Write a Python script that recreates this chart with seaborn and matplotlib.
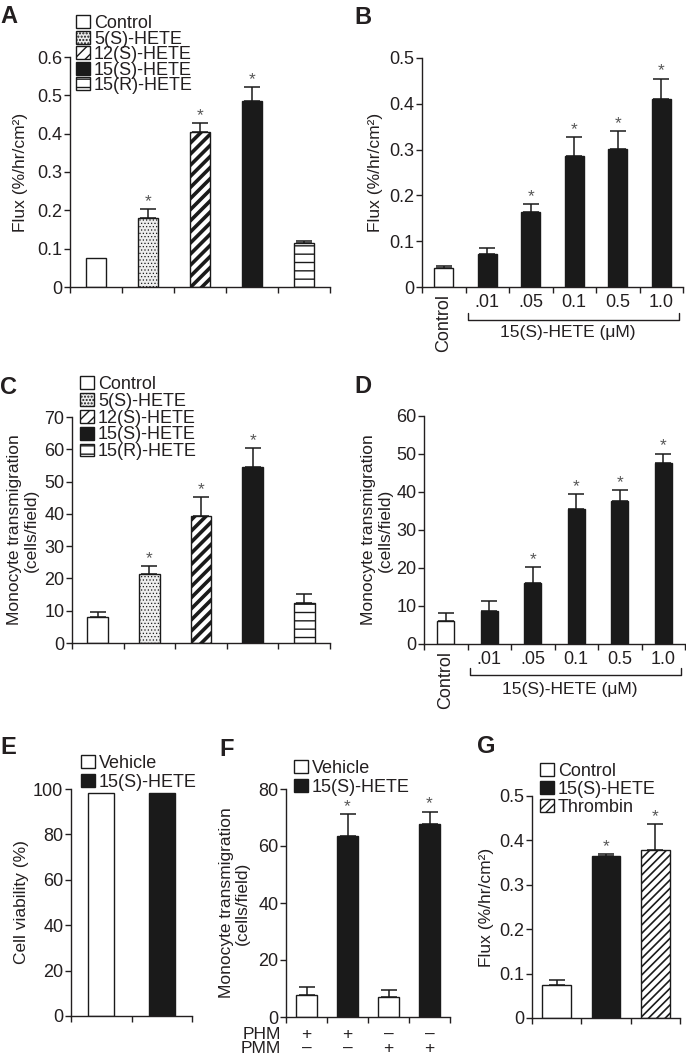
import numpy as np
import pandas as pd
import matplotlib
matplotlib.use("Agg")
import matplotlib.pyplot as plt
from matplotlib.patches import Patch
import seaborn as sns

# ---------------- data ----------------
# Panel A: flux by HETE type
a_groups = ["Control", "5(S)-HETE", "12(S)-HETE", "15(S)-HETE", "15(R)-HETE"]
a_flux = [0.075, 0.179, 0.404, 0.486, 0.114]
a_err = [0.0, 0.024, 0.023, 0.035, 0.006]
a_sig = [0, 1, 1, 1, 0]

# Panel B: flux by 15(S)-HETE dose
b_doses = ["Control", ".01", ".05", "0.1", "0.5", "1.0"]
b_flux = [0.042, 0.073, 0.164, 0.286, 0.301, 0.410]
b_err = [0.004, 0.012, 0.018, 0.042, 0.040, 0.045]
b_sig = [0, 0, 1, 1, 1, 1]

# Panel C: monocyte transmigration by HETE type
c_groups = ["Control", "5(S)-HETE", "12(S)-HETE", "15(S)-HETE", "15(R)-HETE"]
c_trans = [7.9, 21.5, 39.2, 54.4, 12.5]
c_err = [1.7, 2.2, 6.1, 5.9, 2.6]
c_sig = [0, 1, 1, 1, 0]

# Panel D: monocyte transmigration by dose
d_doses = ["Control", ".01", ".05", "0.1", "0.5", "1.0"]
d_trans = [6.0, 8.8, 16.1, 35.6, 37.7, 47.7]
d_err = [2.2, 2.4, 4.1, 3.8, 2.8, 2.4]
d_sig = [0, 0, 1, 1, 1, 1]

# Panel E: cell viability
e_groups = ["Vehicle", "15(S)-HETE"]
e_viab = [98.1, 98.1]

# Panel F: transmigration with PHM / PMM
f_conds = ["Vehicle PHM", "15(S)-HETE PHM", "Vehicle PMM", "15(S)-HETE PMM"]
f_treat = ["Vehicle", "15(S)-HETE", "Vehicle", "15(S)-HETE"]
f_trans = [7.7, 63.6, 7.1, 67.6]
f_err = [2.8, 7.5, 2.3, 4.5]
f_sig = [0, 1, 0, 1]
f_phm = ["+", "+", "\u2013", "\u2013"]
f_pmm = ["\u2013", "\u2013", "+", "+"]

# Panel G: flux control / 15(S)-HETE / thrombin
g_groups = ["Control", "15(S)-HETE", "Thrombin"]
g_flux = [0.0735, 0.365, 0.378]
g_err = [0.0125, 0.004, 0.058]
g_sig = [0, 1, 1]

# ---------------- style ----------------
sns.set_style("ticks")
plt.rcParams["font.family"] = ["Liberation Sans", "DejaVu Sans"]
TXT = "#231f20"
BLK = "#1a1a1a"
FS = 13
LFS = 13
plt.rcParams.update({
    "axes.linewidth": 1.0, "axes.edgecolor": TXT,
    "xtick.color": TXT, "ytick.color": TXT,
    "xtick.labelcolor": TXT, "ytick.labelcolor": TXT,
    "xtick.major.width": 1.0, "ytick.major.width": 1.0,
    "xtick.major.size": 4, "ytick.major.size": 4,
    "ytick.major.pad": 1.5,
    "xtick.labelsize": FS, "ytick.labelsize": FS,
    "axes.labelsize": 12.5, "axes.labelcolor": TXT, "text.color": TXT,
})

W, H = 686, 1062
fig = plt.figure(figsize=(W / 100, H / 100), dpi=100)


def add_ax(left, top, right, bottom):
    return fig.add_axes([left / W, 1 - bottom / H, (right - left) / W, (bottom - top) / H])


STYLE = {
    "Control": ("white", None, 1.0),
    "Vehicle": ("white", None, 1.0),
    "5(S)-HETE": ("#ededed", ".....", 0.5),
    "12(S)-HETE": ("white", "///", 2.6),
    "15(S)-HETE": (BLK, None, 1.0),
    "15(R)-HETE": ("white", "--", 1.0),
    "Thrombin": ("white", "////", 1.2),
}


def set_hlw(p, lw):
    try:
        p.set_hatch_linewidth(lw)
    except AttributeError:
        pass


def bars(ax, cats, vals, errs, sig, kinds, width, ymax, yticks, yfmt, ylabel, lab_x):
    df = pd.DataFrame({"cat": cats, "val": vals})
    pal = {c: STYLE[k][0] for c, k in zip(cats, kinds)}
    sns.barplot(data=df, x="cat", y="val", hue="cat", palette=pal, order=cats,
                hue_order=cats, legend=False, width=width, saturation=1,
                edgecolor=BLK, linewidth=1.0, errorbar=None, ax=ax)
    patches = sorted(ax.patches, key=lambda p: p.get_x())
    for p, k in zip(patches, kinds):
        fc, hatch, hlw = STYLE[k]
        if hatch:
            p.set_hatch(hatch)
            set_hlw(p, hlw)
    n = len(cats)
    if errs is not None:
        idx = [i for i in range(n) if errs[i] > 0]
        ax.errorbar([i for i in idx], [vals[i] for i in idx],
                    yerr=[[0] * len(idx), [errs[i] for i in idx]],
                    fmt="none", ecolor=BLK, elinewidth=1.1, capsize=5.5, capthick=1.1)
    if sig is not None:
        for i in range(n):
            if sig[i]:
                top = vals[i] + (errs[i] if errs is not None else 0)
                ax.annotate("*", (i, top), xytext=(0, 0), textcoords="offset points",
                            ha="center", va="bottom", fontsize=12.5, color="#555555",
                            annotation_clip=False)
    ax.set_xlim(-0.5, n - 0.5)
    ax.set_ylim(0, ymax)
    ax.set_xticks(np.arange(n + 1) - 0.5)
    ax.set_xticklabels([])
    ax.set_yticks(yticks)
    ax.set_yticklabels([yfmt(t) for t in yticks])
    ax.set_xlabel("")
    ax.set_ylabel(ylabel, linespacing=1.1)
    ax.yaxis.set_label_coords(lab_x, 0.5)
    sns.despine(ax=ax)
    ax.spines["left"].set_bounds(0, ymax)


def legend(ax, kinds, x, y, ls):
    handles = []
    for k in kinds:
        fc, hatch, hlw = STYLE[k]
        p = Patch(facecolor=fc, edgecolor=BLK, hatch=hatch, linewidth=1.0, label=k)
        set_hlw(p, hlw)
        handles.append(p)
    ax.legend(handles=handles, loc="upper left", bbox_to_anchor=(x / W, 1 - y / H),
              bbox_transform=fig.transFigure, frameon=False, borderpad=0,
              borderaxespad=0, handlelength=0.8, handleheight=0.72,
              handletextpad=0.2, labelspacing=ls, fontsize=LFS)


def fmt_dec(t):
    return "0" if t == 0 else f"{t:.1f}"


def fmt_int(t):
    return f"{int(t)}"


flux_lab = "Flux (%/hr/cm\u00b2)"
mono_lab = "Monocyte transmigration\n(cells/field)"

# ---- A ----
axA = add_ax(70, 57, 330, 287)
bars(axA, a_groups, a_flux, a_err, a_sig, a_groups, 0.4, 0.6,
     np.round(np.arange(0, 0.61, 0.1), 1), fmt_dec, flux_lab, -0.16)
legend(axA, a_groups, 76, 15, -0.08)

# ---- B ----
axB = add_ax(422, 58, 683, 287)
bars(axB, b_doses, b_flux, b_err, b_sig, ["Control"] + ["15(S)-HETE"] * 5, 0.44, 0.5,
     np.round(np.arange(0, 0.51, 0.1), 1), fmt_dec, flux_lab, -0.15)


def dose_labels(ax, labels, br_y, tick_y, txt_y):
    n = len(labels)
    ax.set_xticks(np.arange(n), labels, minor=True)
    ax.tick_params(axis="x", which="minor", length=0, pad=5)
    for t in ax.get_xticklabels(minor=True):
        if t.get_text() == "Control":
            t.set_rotation(90)
    tr = ax.get_xaxis_transform()
    ax.plot([0.55, 0.55, 5.4, 5.4], [tick_y, br_y, br_y, tick_y], color=TXT, lw=1.0,
            transform=tr, clip_on=False)
    ax.text(2.85, txt_y, "15(S)-HETE (\u03bcM)", transform=tr, ha="center", va="top",
            fontsize=12.5)


dose_labels(axB, b_doses, -0.144, -0.114, -0.165)

# ---- C ----
axC = add_ax(72, 417, 330, 643)
bars(axC, c_groups, c_trans, c_err, c_sig, c_groups, 0.4, 70,
     np.arange(0, 71, 10), fmt_int, mono_lab, -0.13)
legend(axC, c_groups, 80, 376, -0.01)

# ---- D ----
axD = add_ax(424, 416, 685, 644)
bars(axD, d_doses, d_trans, d_err, d_sig, ["Control"] + ["15(S)-HETE"] * 5, 0.4, 60,
     np.arange(0, 61, 10), fmt_int, mono_lab, -0.12)
dose_labels(axD, d_doses, -0.136, -0.105, -0.165)

# ---- E ----
axE = add_ax(71, 789, 192, 1016)
bars(axE, e_groups, e_viab, None, None, e_groups, 0.43, 100,
     np.arange(0, 101, 20), fmt_int, "Cell viability (%)", -0.35)
legend(axE, e_groups, 81, 755, 0.09)

# ---- F ----
axF = add_ax(286, 789, 450, 1017)
bars(axF, f_conds, f_trans, f_err, f_sig, f_treat, 0.5, 80,
     np.arange(0, 81, 20), fmt_int, mono_lab, -0.22)
legend(axF, ["Vehicle", "15(S)-HETE"], 294, 760, 0.09)
axF.set_xticks(np.arange(4), [f"{a}\n{b}" for a, b in zip(f_phm, f_pmm)], minor=True)
axF.tick_params(axis="x", which="minor", length=0, pad=7)
for t in axF.get_xticklabels(minor=True):
    t.set_linespacing(0.92)
    t.set_fontsize(12.5)
trF = axF.get_xaxis_transform()
axF.text(-0.62, -0.045, "PHM\nPMM", transform=trF, ha="right", va="top",
         fontsize=12.5, linespacing=0.92)

# ---- G ----
axG = add_ax(532, 796, 680, 1018)
bars(axG, g_groups, g_flux, g_err, g_sig, g_groups, 0.58, 0.5,
     np.round(np.arange(0, 0.51, 0.1), 1), fmt_dec, flux_lab, -0.26)
legend(axG, g_groups, 540, 763, 0.06)

# ---- panel letters ----
for lab, x, y in [("A", 0, 5), ("B", 354, 6), ("C", 0, 376), ("D", 354, 375),
                  ("E", 0, 736), ("F", 219, 738), ("G", 477, 735)]:
    fig.text(x / W, 1 - y / H, lab, fontsize=17, fontweight="bold", ha="left", va="top")

fig.savefig("out.png", dpi=100)
